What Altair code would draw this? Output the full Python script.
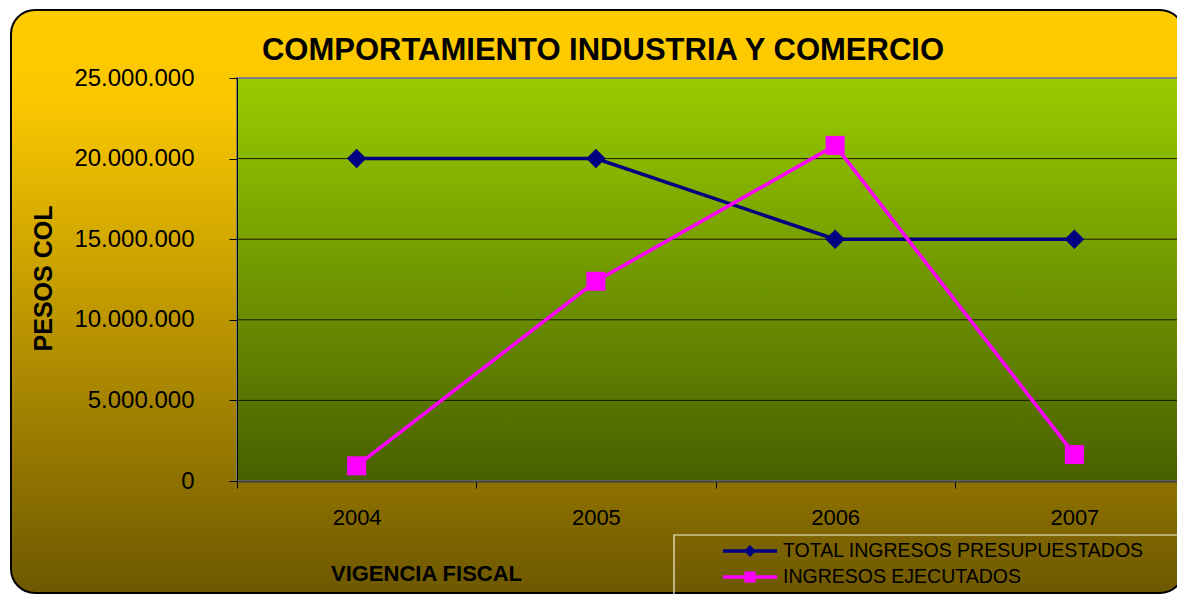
import altair as alt
import pandas as pd

# ---- data ----
title_text = "COMPORTAMIENTO INDUSTRIA Y COMERCIO"
years = ["2004", "2005", "2006", "2007"]
presupuestados = [20000000, 20000000, 15000000, 15000000]
ejecutados = [940000, 12390000, 20820000, 1640000]
series = ["TOTAL INGRESOS PRESUPUESTADOS", "INGRESOS EJECUTADOS"]
series_colors = ["#000080", "#FF00FF"]
y_ticks = [0, 5000000, 10000000, 15000000, 20000000, 25000000]
grid_vals = [5000000, 10000000, 15000000, 20000000]

rows = []
for yr, a, b in zip(years, presupuestados, ejecutados):
    rows.append({"anio": yr, "serie": series[0], "valor": a})
    rows.append({"anio": yr, "serie": series[1], "valor": b})
df = pd.DataFrame(rows)
grid_df = pd.DataFrame({"v": grid_vals})
one = alt.Data(values=[{"k": 1}])

FONT = "Liberation Sans"
W, H = 940, 403
XR = 957

x_scale = alt.Scale(type="band", domain=years, range=[0, XR], paddingInner=0, paddingOuter=0)
y_scale = alt.Scale(domain=[0, 25000000], nice=False, zero=True)
color_scale = alt.Scale(domain=series, range=series_colors)

label_expr = "replace(format(datum.value, ',d'), regexp(',', 'g'), '.')"

x_enc = alt.X(
    "anio:O", scale=x_scale, bandPosition=0.5,
    axis=alt.Axis(
        title="VIGENCIA FISCAL", titleFont=FONT, titleFontSize=22, titleFontWeight="bold",
        titleColor="black", titleX=189, titleY=92, titleAlign="center", titleBaseline="middle",
        labelFont=FONT, labelFontSize=22, labelColor="black", labelAngle=0, labelPadding=19,
        tickBand="extent", tickSize=7, tickColor="black", domainColor="#404040",
        domainWidth=2, grid=False, zindex=1,
    ),
)
y_enc = alt.Y(
    "valor:Q", scale=y_scale,
    axis=alt.Axis(
        title="PESOS COL", titleFont=FONT, titleFontSize=25, titleFontWeight="bold",
        titleColor="black", titleX=-194, titleY=200, titleAngle=270, titleAlign="center",
        titleBaseline="middle",
        values=y_ticks, labelExpr=label_expr, labelFont=FONT, labelFontSize=24,
        labelColor="black", labelPadding=35, tickSize=8, tickColor="black",
        domainColor="black", domainWidth=1, grid=False, zindex=1,
    ),
)

path_a = "M-2.25,-0.146H2.25V0.146H-2.25Z M0,-0.5L0.5,0L0,0.5L-0.5,0Z"
path_b = "M-2.25,-0.146H2.25V0.146H-2.25Z M-0.46,-0.46H0.46V0.46H-0.46Z"
leg = alt.Legend(
    title=None, orient="none", legendX=501, legendY=461, padding=0,
    symbolSize=576, symbolStrokeWidth=0, symbolOffset=0, labelOffset=21,
    rowPadding=4, labelFont=FONT, labelFontSize=19.5, labelColor="black",
    labelLimit=600, symbolOpacity=1,
)
# legend carrier layer (drawn first, hidden beneath the backgrounds)
legend_layer = alt.Chart(df).mark_point(filled=True, opacity=1, size=4).encode(
    x=x_enc, y=y_enc,
    fill=alt.Fill("serie:N", scale=alt.Scale(domain=series, range=series_colors), legend=leg),
    shape=alt.Shape("serie:N", scale=alt.Scale(domain=series, range=[path_a, path_b]), legend=leg),
)

outer_bg = alt.Chart(one).mark_rect(
    cornerRadius=24, stroke="black", strokeWidth=2,
    fill=alt.Gradient(
        gradient="linear", x1=0, x2=0, y1=0, y2=1,
        stops=[alt.GradientStop(offset=0, color="#FFCC00"),
               alt.GradientStop(offset=0.15, color="#FBC800"),
               alt.GradientStop(offset=1, color="#6E5800")],
    ),
).encode(x=alt.value(-226), x2=alt.value(947), y=alt.value(-68), y2=alt.value(515))

title_mark = alt.Chart(one).mark_text(
    text=title_text, font=FONT, fontSize=31, fontWeight="bold", color="black",
    align="center", baseline="alphabetic",
).encode(x=alt.value(366), y=alt.value(-18))

plot_bg = alt.Chart(one).mark_rect(
    stroke="#808080", strokeWidth=2,
    fill=alt.Gradient(
        gradient="linear", x1=0, x2=0, y1=0, y2=1,
        stops=[alt.GradientStop(offset=0, color="#99CC00"),
               alt.GradientStop(offset=1, color="#486000")],
    ),
).encode(x=alt.value(0), x2=alt.value(XR), y=alt.value(0), y2=alt.value(H))

grid = alt.Chart(grid_df).mark_rule(color="#1a1a00", strokeWidth=1).encode(
    y=alt.Y("v:Q", scale=y_scale)
)

legend_box = alt.Chart(one).mark_rect(
    fillOpacity=0, stroke="#F4F0DC", strokeWidth=1.2
).encode(x=alt.value(437), x2=alt.value(1000), y=alt.value(457), y2=alt.value(600))

lines = alt.Chart(df).mark_line(strokeWidth=3.5).encode(
    x=x_enc, y=y_enc,
    color=alt.Color("serie:N", scale=color_scale, legend=None),
)

pts_a = alt.Chart(df).transform_filter(
    alt.datum.serie == series[0]
).mark_point(shape="diamond", filled=True, size=380, opacity=1, color=series_colors[0]).encode(
    x=x_enc, y=y_enc
)
pts_b = alt.Chart(df).transform_filter(
    alt.datum.serie == series[1]
).mark_point(shape="square", filled=True, size=361, opacity=1, color=series_colors[1]).encode(
    x=x_enc, y=y_enc
)

chart = alt.layer(
    legend_layer, outer_bg, title_mark, plot_bg, grid, legend_box, lines, pts_a, pts_b
).properties(
    width=W, height=H,
    autosize=alt.AutoSizeParams(type="none"),
    padding={"left": 229, "top": 70, "right": 0, "bottom": 115},
    background="white",
).configure_view(strokeWidth=0)

chart.save("out.html", embed_options={"renderer": "svg", "actions": False})
